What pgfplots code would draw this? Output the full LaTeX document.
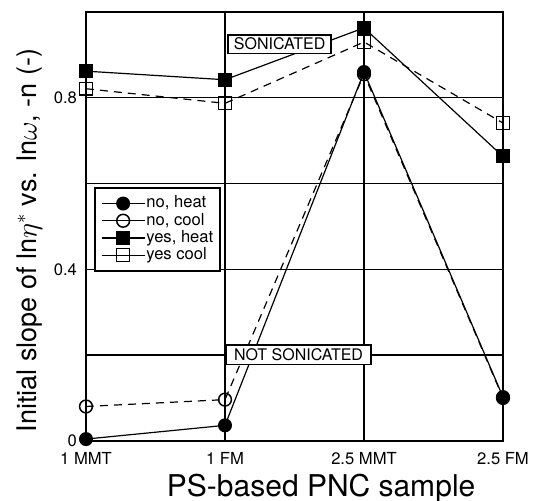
\documentclass[border=0pt]{standalone}
\usepackage{fontspec}
\setmainfont{TeX Gyre Heros}
\usepackage{pgfplots}
\pgfplotsset{compat=1.18}
\begin{document}
\begin{tikzpicture}
\begin{axis}[
  name=ax,
  width=208.5pt, height=214.4pt, scale only axis,
  xmin=0, xmax=3, ymin=0, ymax=1,
  xtick={0,1,2,3}, xticklabels={1 MMT,1 FM,2.5 MMT,2.5 FM},
  ytick={0,0.2,0.4,0.6,0.8,1}, yticklabels={0,,0.4,,0.8,},
  grid=major, grid style={black, line width=0.7pt},
  axis line style={line width=1pt},
  major tick length=0pt,
  tick label style={font=\fontsize{8.3}{10}\selectfont},
  yticklabel style={xshift=-1pt},
  xticklabel style={yshift=-2.5pt},
  xlabel={PS-based PNC sample},
  ylabel={Initial slope of ln$\eta^*$ vs. ln$\omega$, -n (-)},
  xlabel style={font=\fontsize{15}{15}\selectfont, at={(axis description cs:0.564,-0.131)}, anchor=base},
  ylabel style={font=\fontsize{13.5}{13.5}\selectfont, at={(axis description cs:-0.135,0.467)}, anchor=center},
  clip=false,
  legend cell align=left,
  legend style={at={(axis description cs:0.019,0.592)}, anchor=north west,
    draw=black, line width=1pt, inner xsep=3pt, inner ysep=3.5pt,
    font=\fontsize{8.3}{8.3}\selectfont,
    nodes={inner sep=0.5pt, text height=6pt, text depth=1.6pt}},
  legend image code/.code={\draw[mark repeat=2,mark phase=2] plot coordinates {(0cm,0cm)(0.38cm,0cm)(0.76cm,0cm)};},
]
\addlegendimage{black, line width=0.6pt, mark=*, mark size=3.2pt, mark options={solid, fill=black}}
\addlegendentry{no, heat}
\addlegendimage{black, line width=0.6pt, mark=o, mark size=3.2pt, mark options={solid, line width=0.75pt}}
\addlegendentry{no, cool}
\addlegendimage{black, line width=0.6pt, mark=square*, mark size=3.2pt, mark options={solid, fill=black}}
\addlegendentry{yes, heat}
\addlegendimage{black, line width=0.6pt, mark=square, mark size=3.2pt, mark options={solid, line width=0.75pt}}
\addlegendentry{yes cool}

\addplot[forget plot, black, line width=0.6pt, dash pattern=on 4pt off 3pt, mark=o, mark size=3.2pt, mark options={solid, line width=0.75pt}]
  coordinates {(0,0.080) (1,0.096) (2,0.855) (3,0.100)};
\addplot[forget plot, black, line width=0.6pt, mark=*, mark size=3.2pt, mark options={solid, fill=black}]
  coordinates {(0,0.004) (1,0.036) (2,0.860) (3,0.102)};
\addplot[forget plot, black, line width=0.6pt, dash pattern=on 4pt off 3pt, mark=square, mark size=3.2pt, mark options={solid, line width=0.75pt}]
  coordinates {(0,0.821) (1,0.787) (2,0.930) (3,0.741)};
\addplot[forget plot, black, line width=0.6pt, mark=square*, mark size=3.2pt, mark options={solid, fill=black}]
  coordinates {(0,0.862) (1,0.842) (2,0.963) (3,0.663)};

\node[draw, line width=0.9pt, fill=white, font=\fontsize{8}{8}\selectfont, inner xsep=2.9pt, inner ysep=1.8pt, text height=5.8pt, text depth=0pt] at (axis cs:1.393,0.925) {SONICATED};
\node[draw, line width=0.9pt, fill=white, font=\fontsize{8}{8}\selectfont, inner xsep=4pt, inner ysep=2pt, text height=5.8pt, text depth=0pt] at (axis cs:1.529,0.2008) {NOT SONICATED};
\end{axis}
\pgfresetboundingbox
\path ([xshift=-43pt,yshift=-30pt]ax.south west) rectangle ([xshift=16.5pt,yshift=6pt]ax.north east);
\end{tikzpicture}
\end{document}
